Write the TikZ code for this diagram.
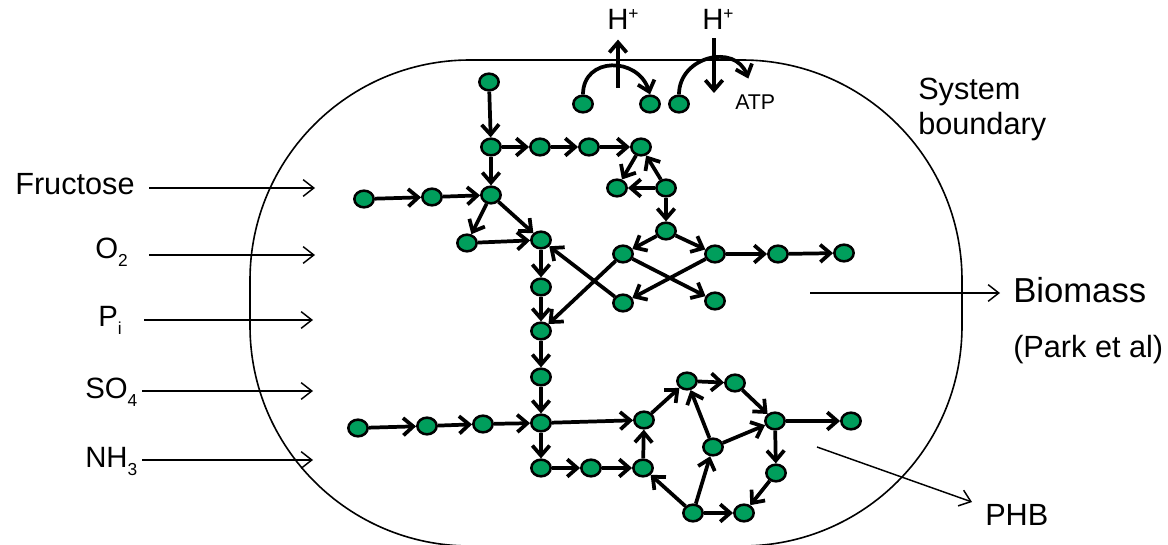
\documentclass[tikz,border=0pt]{standalone}
\usepackage{fontspec}
\setmainfont{Liberation Sans}
\usepackage{xcolor}
\definecolor{MetGreen}{HTML}{009E5C}
\usetikzlibrary{arrows.meta,shapes.geometric,calc}
\newcommand{\chemsub}[1]{\raisebox{-6pt}{\fontsize{13}{13}\selectfont #1}}
\newcommand{\chemsup}[1]{\raisebox{8pt}{\fontsize{13}{13}\selectfont #1}}
\tikzset{
  met/.style={ellipse,draw=black,fill=MetGreen,line width=1.9pt,minimum width=14.5pt,minimum height=12.5pt,inner sep=0pt},
  flux/.style={-{Straight Barb[length=7.5pt,width=13pt]},line width=2.8pt},
  exch/.style={-{Straight Barb[length=8pt,width=12.5pt]},line width=1.1pt},
  lbl/.style={font=\fontsize{23}{27}\selectfont,inner sep=0pt,anchor=base west},
  chemlbl/.style={font=\fontsize{22}{26}\selectfont,inner sep=0pt,anchor=base west},
  biglbl/.style={font=\fontsize{26}{30}\selectfont,inner sep=0pt,anchor=base west},
  smalllbl/.style={font=\fontsize{16}{18}\selectfont,inner sep=0pt,anchor=base west}
}

\begin{document}
\begin{tikzpicture}[x=0.75pt,y=-0.75pt]
  \useasboundingbox (0,0) rectangle (1168,545);
  % system boundary
  \draw[line width=1.2pt,rounded corners=165pt] (250,60) rectangle (962,546);
  \node[lbl] (sys) at (918,100) {System};
  \node[lbl] (bnd) at (918,135) {boundary};

  % inputs
  \node[lbl] (fru) at (15,195) {Fructose};
  \node[chemlbl] (oxy) at (95,259) {O\chemsub{2}};
  \node[chemlbl] (pho) at (98,327) {P\chemsub{i}};
  \node[chemlbl] (sul) at (85,398) {SO\chemsub{4}};
  \node[chemlbl] (amm) at (85,467) {NH\chemsub{3}};
  \coordinate (fruS) at (149,188); \coordinate (fruE) at (315,188);
  \coordinate (oxyS) at (149,255); \coordinate (oxyE) at (315,255);
  \coordinate (phoS) at (144,320); \coordinate (phoE) at (313,320);
  \coordinate (sulS) at (142,391); \coordinate (sulE) at (313,391);
  \coordinate (ammS) at (142,460); \coordinate (ammE) at (313,460);
  \draw[exch] (fruS) -- (fruE);
  \draw[exch] (oxyS) -- (oxyE);
  \draw[exch] (phoS) -- (phoE);
  \draw[exch] (sulS) -- (sulE);
  \draw[exch] (ammS) -- (ammE);

  % outputs
  \node[biglbl] (bio) at (1013,303) {Biomass};
  \node[lbl] (park) at (1013,358) {(Park et al)};
  \node[lbl] (phb) at (985,525) {PHB};
  \coordinate (bioS) at (810,293); \coordinate (bioE) at (1000,293);
  \coordinate (phbS) at (817,447); \coordinate (phbE) at (972,502);
  \draw[exch] (bioS) -- (bioE);
  \draw[exch] (phbS) -- (phbE);

  % proton pumping and ATP
  \node[chemlbl] (hout) at (607,30) {H\chemsup{+}};
  \node[chemlbl] (hin) at (702,30) {H\chemsup{+}};
  \node[smalllbl] (atp) at (735,110) {ATP};
  \node[met] (t1) at (583,104) {};
  \node[met] (t2) at (650,104) {};
  \node[met] (t3) at (679,104) {};
  \coordinate (pumpout) at (618,88);
  \coordinate (pumpin) at (714,93);
  \draw[flux,shorten >=7pt] (pumpout) -- (pumpout |- hout.south);
  \draw[flux,shorten <=6pt] (pumpin |- hin.south) -- (pumpin);
  \draw[flux] (t1.north) .. controls +(0,-38) and +(-12,-38) .. (t2.north);
  \draw[flux,shorten >=2pt] (t3.north) .. controls +(0,-38) and +(-14,-38) .. ($(atp.north)+(-6,-14)$);

  % upper network
  \node[met] (s0) at (489,82) {};
  \node[met] (s1) at (491,147) {};
  \node[met] (s2) at (540,147) {};
  \node[met] (s3) at (589,147) {};
  \node[met] (s4) at (641,147) {};
  \node[met] (s5) at (617,188) {};
  \node[met] (s6) at (666,188) {};
  \node[met] (s7) at (666,231) {};
  \node[met] (s8) at (623,254) {};
  \node[met] (s9) at (715,254) {};
  \node[met] (s10) at (778,254) {};
  \node[met] (s11) at (844,253) {};
  \node[met] (s12) at (623,303) {};
  \node[met] (s13) at (715,301) {};
  \node[met] (f1) at (364,199) {};
  \node[met] (f2) at (432,197) {};
  \node[met] (f3) at (491,195) {};
  \node[met] (f4) at (467,243) {};
  \node[met] (f5) at (541,240) {};
  \draw[flux] (s0) -- (s1);
  \draw[flux] (s1) -- (s2);
  \draw[flux] (s2) -- (s3);
  \draw[flux] (s3) -- (s4);
  \draw[flux] (s4) -- (s5);
  \draw[flux] (s6) -- (s5);
  \draw[flux] (s6) -- (s4);
  \draw[flux] (s6) -- (s7);
  \draw[flux] (s7) -- (s8);
  \draw[flux] (s7) -- (s9);
  \draw[flux] (s9) -- (s10);
  \draw[flux] (s10) -- (s11);
  \draw[flux] (s8) -- (s13);
  \draw[flux] (s9) -- (s12);
  \draw[flux] (s1) -- (f3);
  \draw[flux] (f1) -- (f2);
  \draw[flux] (f2) -- (f3);
  \draw[flux] (f3) -- (f4);
  \draw[flux] (f3) -- (f5);
  \draw[flux] (f4) -- (f5);
  \draw[flux] (s12) -- (f5);

  % trunk
  \node[met] (c1) at (541,287) {};
  \node[met] (c2) at (541,331) {};
  \node[met] (c3) at (541,377) {};
  \node[met] (c4) at (541,423) {};
  \node[met] (c5) at (541,468) {};
  \node[met] (c6) at (591,468) {};
  \node[met] (w1) at (358,428) {};
  \node[met] (w2) at (427,426) {};
  \node[met] (w3) at (483,424) {};
  \draw[flux] (f5) -- (c1);
  \draw[flux] (c1) -- (c2);
  \draw[flux] (s8) -- (c2);
  \draw[flux] (c2) -- (c3);
  \draw[flux] (c3) -- (c4);
  \draw[flux] (w1) -- (w2);
  \draw[flux] (w2) -- (w3);
  \draw[flux] (w3) -- (c4);
  \draw[flux] (c4) -- (c5);
  \draw[flux] (c5) -- (c6);

  % lower cycle
  \node[met] (r1) at (644,420) {};
  \node[met] (r2) at (687,381) {};
  \node[met] (r3) at (735,383) {};
  \node[met] (r4) at (775,421) {};
  \node[met] (r5) at (851,421) {};
  \node[met] (r6) at (713,447) {};
  \node[met] (r7) at (643,468) {};
  \node[met] (r8) at (776,473) {};
  \node[met] (r9) at (693,513) {};
  \node[met] (r10) at (744,513) {};
  \draw[flux] (c4) -- (r1);
  \draw[flux] (c6) -- (r7);
  \draw[flux] (r7) -- (r1);
  \draw[flux] (r1) -- (r2);
  \draw[flux] (r2) -- (r3);
  \draw[flux] (r3) -- (r4);
  \draw[flux] (r6) -- (r2);
  \draw[flux] (r6) -- (r4);
  \draw[flux] (r9) -- (r6);
  \draw[flux] (r9) -- (r7);
  \draw[flux] (r9) -- (r10);
  \draw[flux] (r4) -- (r5);
  \draw[flux] (r4) -- (r8);
  \draw[flux] (r8) -- (r10);
\end{tikzpicture}
\end{document}
